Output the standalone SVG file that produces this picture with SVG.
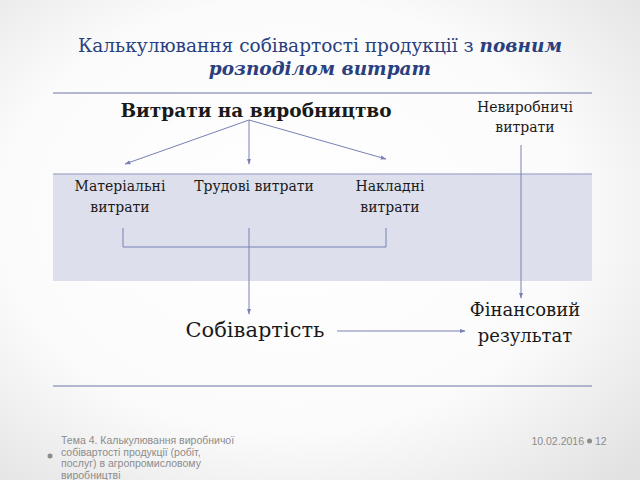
<svg xmlns="http://www.w3.org/2000/svg" width="640" height="480" viewBox="0 0 640 480">
<defs>
<radialGradient id="bg" cx="0.45" cy="0.45" r="0.75">
<stop offset="0" stop-color="#ffffff"/>
<stop offset="0.6" stop-color="#fbfbfb"/>
<stop offset="1" stop-color="#e2e2e2"/>
</radialGradient>
<marker id="ah" viewBox="0 0 10 10" refX="9" refY="5" markerWidth="6" markerHeight="6" orient="auto" markerUnits="userSpaceOnUse">
<path d="M0,1.5 L10,5 L0,8.5 Z" fill="#7880b4"/>
</marker>
<style>
.ser{font-family:'DejaVu Serif',serif;fill:#1a1a1a;text-anchor:middle}
.ttl{font-family:'DejaVu Serif',serif;fill:#2a3f7e;text-anchor:middle;font-size:18.5px}
.con{stroke:#7880b4;stroke-width:1;fill:none}
.rule{stroke:#9ca1c2;stroke-width:1.5}
.ft{font-family:'Liberation Sans',Arial,sans-serif;fill:#8c8c8c;font-size:10.5px}
</style>
</defs>
<rect width="640" height="480" fill="url(#bg)"/>
<text class="ttl" x="320" y="52">Калькулювання собівартості продукції з <tspan font-style="italic" font-weight="bold">повним</tspan></text>
<text class="ttl" x="320" y="75" font-style="italic" font-weight="bold">розподілом витрат</text>
<line class="rule" x1="53" y1="93" x2="592" y2="93"/>
<rect x="53" y="174" width="539" height="107" fill="#dde0ec"/>
<line x1="53" y1="174" x2="592" y2="174" stroke="#8f95bf" stroke-width="1"/>
<line class="rule" x1="53" y1="386" x2="592" y2="386"/>
<g id="n-vyrobnytstvo"><text class="ser" x="256" y="117" font-size="18.5" font-weight="bold">Витрати на виробництво</text></g>
<g id="n-nevyrobnychi"><text class="ser" x="525" y="112" font-size="14">Невиробничі</text><text class="ser" x="525" y="132" font-size="14">витрати</text></g>
<g id="n-materialni"><text class="ser" x="120" y="191" font-size="14">Матеріальні</text><text class="ser" x="120" y="212" font-size="14">витрати</text></g>
<g id="n-trudovi"><text class="ser" x="254" y="191" font-size="14">Трудові витрати</text></g>
<g id="n-nakladni"><text class="ser" x="390" y="191" font-size="14">Накладні</text><text class="ser" x="390" y="212" font-size="14">витрати</text></g>
<g id="n-sobivartist"><text class="ser" x="255" y="337" font-size="21">Собівартість</text></g>
<g id="n-finrez"><text class="ser" x="525" y="316" font-size="18">Фінансовий</text><text class="ser" x="525" y="342" font-size="18">результат</text></g>
<g id="connectors">
<line class="con" x1="249" y1="120" x2="125" y2="164" marker-end="url(#ah)"/>
<line class="con" x1="249" y1="120" x2="249" y2="164" marker-end="url(#ah)"/>
<line class="con" x1="249" y1="120" x2="386" y2="159" marker-end="url(#ah)"/>
<polyline class="con" points="123,228 123,247 386,247 386,228"/>
<line class="con" x1="249" y1="228" x2="249" y2="314" marker-end="url(#ah)"/>
<line class="con" x1="521" y1="145" x2="521" y2="298" marker-end="url(#ah)"/>
<line class="con" x1="337" y1="331" x2="465" y2="331" marker-end="url(#ah)"/>
</g>
<g id="footer">
<circle cx="50" cy="456" r="2.5" fill="#8c8c8c"/>
<text class="ft" x="61" y="444">Тема 4. Калькулювання виробничої</text>
<text class="ft" x="61" y="456">собівартості продукції (робіт,</text>
<text class="ft" x="61" y="467">послуг) в агропромисловому</text>
<text class="ft" x="61" y="479">виробництві</text>
<text class="ft" x="584" y="445" text-anchor="end">10.02.2016</text>
<circle cx="589.5" cy="441" r="2.5" fill="#8c8c8c"/>
<text class="ft" x="595" y="445">12</text>
</g>
</svg>
